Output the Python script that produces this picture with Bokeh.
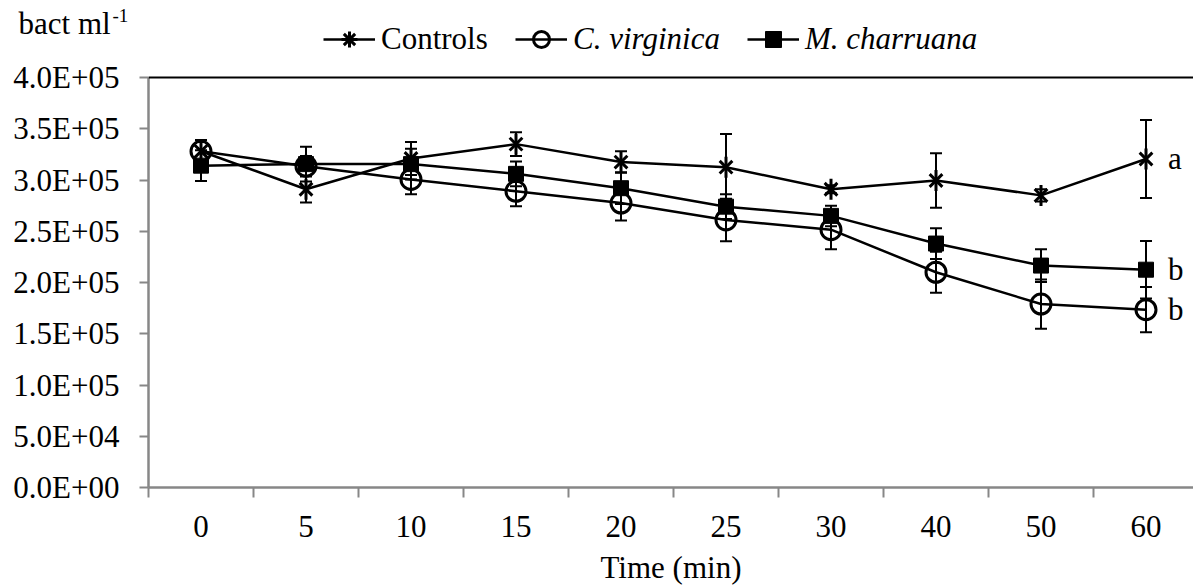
from bokeh.plotting import figure
from bokeh.models import (Range1d, FixedTicker, Whisker, TeeHead, ColumnDataSource,
                          Legend, LegendItem, Label, Span)
from bokeh.core.properties import value
from bokeh.embed import file_html
from bokeh.resources import INLINE

# ---------------- data ----------------
times = ["0", "5", "10", "15", "20", "25", "30", "40", "50", "60"]
controls = [328000, 291000, 321000, 335000, 317500, 312500, 291000, 299500, 285000, 320500]
controls_err = [11000, 13000, 16000, 11500, 10500, 32500, 4000, 26500, 6000, 38000]
virginica = [328000, 313500, 300500, 289000, 277500, 261000, 251500, 210000, 179000, 173500]
virginica_err = [11000, 10000, 14500, 14500, 17000, 20800, 19000, 20000, 24000, 22000]
charruana = [314000, 315500, 315500, 306000, 292000, 274000, 265000, 238000, 216500, 212500]
charruana_err = [15000, 17000, 15000, 12000, 15500, 12000, 10000, 15000, 16000, 28000]
sig_letters = ["a", "b", "b"]
ytick_values = [0, 50000, 100000, 150000, 200000, 250000, 300000, 350000, 400000]
ytick_labels = ["0.0E+00", "5.0E+04", "1.0E+05", "1.5E+05", "2.0E+05",
                "2.5E+05", "3.0E+05", "3.5E+05", "4.0E+05"]

FONT = "Liberation Serif"
FS = "31px"
GREY = "#878787"
LW = 2.5

HDR_H = 58                 # header strip: unit label + legend (px)
AXIS_Y0 = 487              # page y of the x axis
AXIS_H = 410               # pixel height of 0 .. 4.0E+05
FRAME_H = AXIS_Y0 - HDR_H  # main frame reaches up to the header strip
idx = list(range(len(times)))

STY_X = dict(marker="x", size=18, line_color="black", line_width=3)
STY_D = dict(marker="dash", angle=1.5708, size=21, line_color="black", line_width=3)
STY_O = dict(marker="circle", size=20, fill_color=None, line_color="black", line_width=3)
STY_S = dict(marker="square", size=15, fill_color="black", line_color="black", line_width=1)

# ---------------- main plot ----------------
p = figure(width=1193, height=588 - HDR_H, output_backend="svg", toolbar_location=None,
           x_range=Range1d(-0.5, -0.5 + 1045 / 105),
           y_range=Range1d(0, ytick_values[-1] * FRAME_H / AXIS_H),
           min_border_left=148, min_border_top=0, min_border_right=0,
           min_border_bottom=588 - AXIS_Y0)
p.outline_line_color = None
p.grid.visible = False

p.add_layout(Span(location=ytick_values[-1], dimension="width", line_color="black", line_width=2))

# x axis: tick marks between categories, labels at centres
p.xaxis.ticker = FixedTicker(ticks=idx, minor_ticks=[i - 0.5 for i in idx] + [len(idx) - 0.5])
p.xaxis.major_label_overrides = {i: t for i, t in zip(idx, times)}
p.xaxis.major_tick_out = 0
p.xaxis.major_tick_in = 0
p.xaxis.minor_tick_out = 10
p.xaxis.minor_tick_in = 0
p.xaxis.minor_tick_line_color = GREY
p.xaxis.minor_tick_line_width = 2
p.xaxis.axis_line_color = GREY
p.xaxis.axis_line_width = 2.5
p.xaxis.major_label_text_font = FONT
p.xaxis.major_label_text_font_size = FS
p.xaxis.major_label_text_color = "black"
p.xaxis.major_label_standoff = 18
p.xaxis.axis_label = "Time (min)"
p.xaxis.axis_label_text_font = FONT
p.xaxis.axis_label_text_font_size = FS
p.xaxis.axis_label_text_font_style = "normal"
p.xaxis.axis_label_text_color = "black"
p.xaxis.axis_label_standoff = 10

# y axis
p.yaxis.ticker = FixedTicker(ticks=ytick_values)
p.yaxis.bounds = (ytick_values[0], ytick_values[-1])
p.yaxis.major_label_overrides = {v: l for v, l in zip(ytick_values, ytick_labels)}
p.yaxis.major_tick_out = 9
p.yaxis.major_tick_in = 0
p.yaxis.major_tick_line_color = GREY
p.yaxis.major_tick_line_width = 2
p.yaxis.minor_tick_line_color = None
p.yaxis.axis_line_color = GREY
p.yaxis.axis_line_width = 2.5
p.yaxis.major_label_text_font = FONT
p.yaxis.major_label_text_font_size = FS
p.yaxis.major_label_text_color = "black"
p.yaxis.major_label_standoff = 20


def src_for(vals, errs):
    return ColumnDataSource(dict(x=idx, y=vals,
                                 lo=[v - e for v, e in zip(vals, errs)],
                                 hi=[v + e for v, e in zip(vals, errs)]))


src_c = src_for(controls, controls_err)
src_v = src_for(virginica, virginica_err)
src_m = src_for(charruana, charruana_err)

for src in (src_c, src_v, src_m):
    p.line("x", "y", source=src, line_color="black", line_width=LW)

for src in (src_c, src_v, src_m):
    p.add_layout(Whisker(base="x", upper="hi", lower="lo", source=src, dimension="height",
                         line_color="black", line_width=2,
                         upper_head=TeeHead(size=12, line_color="black", line_width=2),
                         lower_head=TeeHead(size=12, line_color="black", line_width=2)))

p.scatter("x", "y", source=src_c, **STY_X)
p.scatter("x", "y", source=src_c, **STY_D)
p.scatter("x", "y", source=src_v, **STY_O)
p.scatter("x", "y", source=src_m, **STY_S)

last = len(idx) - 1
p.text(x=[idx[last]] * 3, y=[controls[last], charruana[last], virginica[last]], text=sig_letters,
       x_offset=22, text_baseline="middle", text_align="left",
       text_font=value(FONT), text_font_size=FS, text_color="black")

# ---------------- header strip (unit label + legend) ----------------
hdr = figure(width=1193, height=HDR_H, x_range=Range1d(0, 1193), y_range=Range1d(HDR_H, 0),
             output_backend="svg", toolbar_location=None,
             min_border=0, min_border_left=0, min_border_right=0, min_border_top=0, min_border_bottom=0,
             x_axis_type=None, y_axis_type=None)
hdr.outline_line_color = None
hdr.grid.visible = False

hdr.add_layout(Label(x=18, y=23, text="bact ml", text_font=FONT, text_font_size=FS,
                     text_baseline="middle", text_color="black"))
hdr.add_layout(Label(x=112, y=15, text="-1", text_font=FONT, text_font_size="19px",
                     text_baseline="middle", text_color="black"))

# legend proxies: the same series, lying outside this strip's ranges (so not drawn here)
h_lc = hdr.line(idx, controls, line_color="black", line_width=LW)
h_mx = hdr.scatter(idx, controls, **STY_X)
h_md = hdr.scatter(idx, controls, marker="cross", line_color="black", line_width=3)
h_lv = hdr.line(idx, virginica, line_color="black", line_width=LW)
h_mo = hdr.scatter(idx, virginica, **STY_O)
h_lm = hdr.line(idx, charruana, line_color="black", line_width=LW)
h_ms = hdr.scatter(idx, charruana, **STY_S)

common = dict(orientation="horizontal", padding=0, margin=0, border_line_color=None,
              background_fill_alpha=0, glyph_width=52, glyph_height=40, label_height=40,
              label_standoff=6, spacing=27, label_text_font=FONT, label_text_font_size=FS,
              label_text_color="black")
leg_y = HDR_H - 59
leg1 = Legend(items=[LegendItem(label="Controls", renderers=[h_lc, h_mx, h_md])],
              location=(323, leg_y), **common)
leg2 = Legend(items=[LegendItem(label="C. virginica", renderers=[h_lv, h_mo]),
                     LegendItem(label="M. charruana", renderers=[h_lm, h_ms])],
              location=(515, leg_y), label_text_font_style="italic", **common)
hdr.add_layout(leg1)
hdr.add_layout(leg2)

open("out.html", "w").write(file_html([hdr, p], INLINE))
